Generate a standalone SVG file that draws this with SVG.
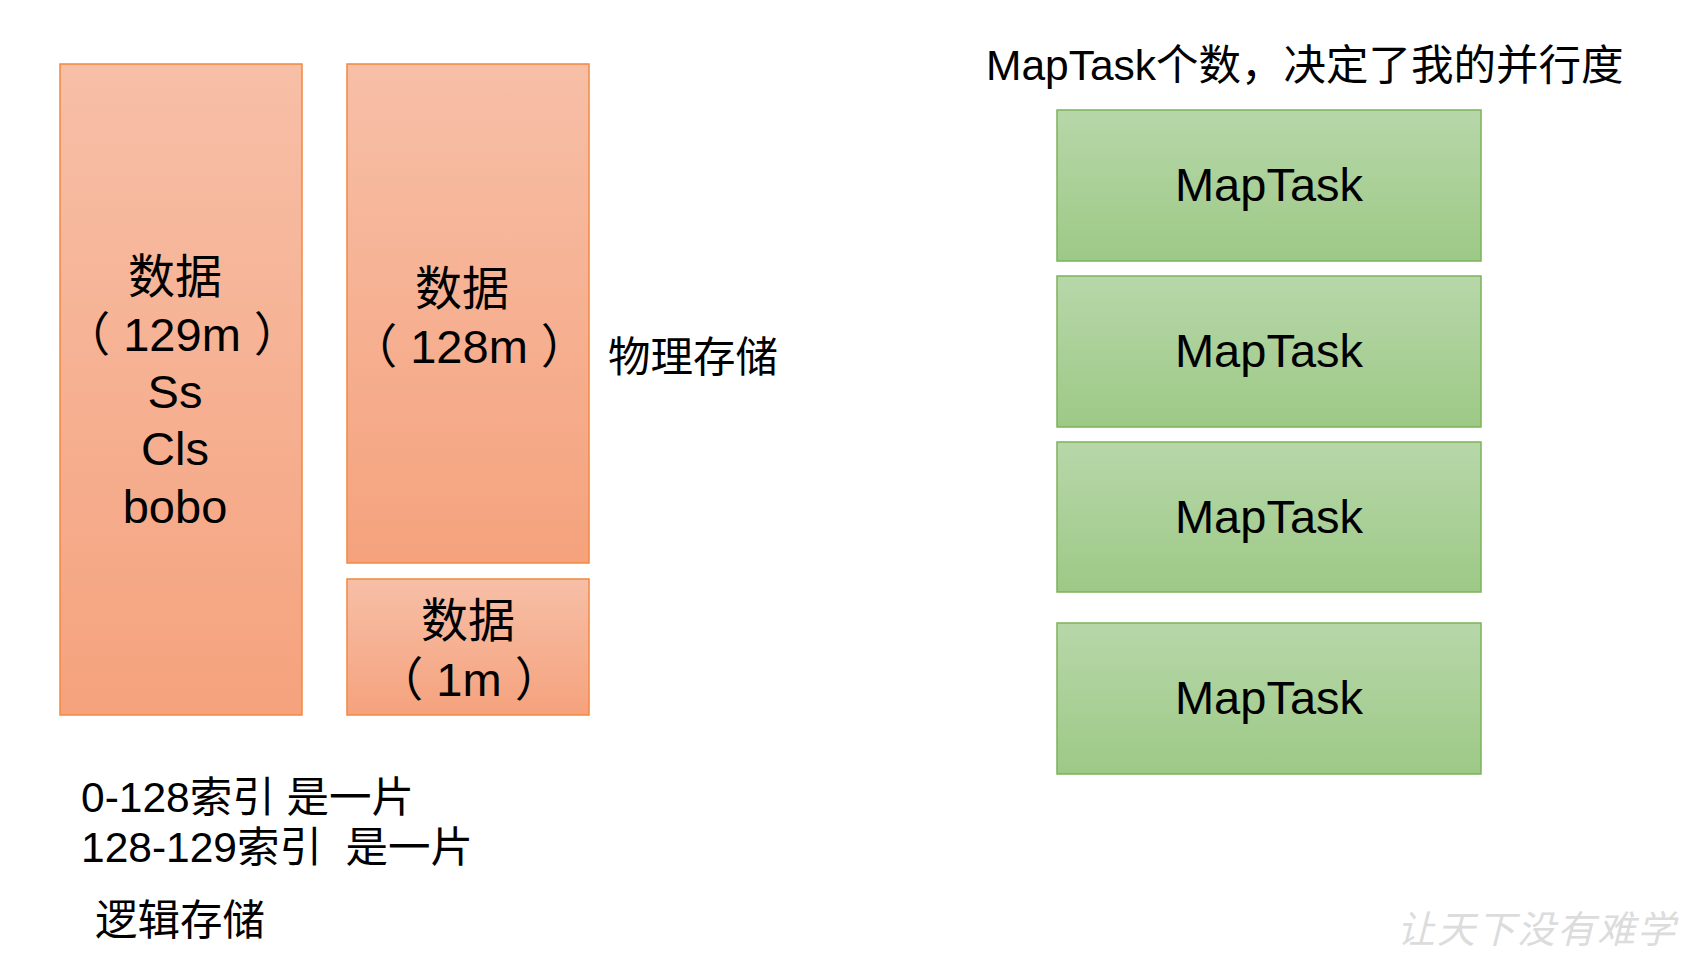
<svg xmlns="http://www.w3.org/2000/svg" width="1685" height="953" viewBox="0 0 1685 953">
<defs>
<linearGradient id="gOrange" x1="0" y1="0" x2="0" y2="1">
<stop offset="0" stop-color="#f7bfa7"/>
<stop offset="1" stop-color="#f5a27d"/>
</linearGradient>
<linearGradient id="gGreen" x1="0" y1="0" x2="0" y2="1">
<stop offset="0" stop-color="#b7d7a9"/>
<stop offset="1" stop-color="#9dc986"/>
</linearGradient>
<style>
.ob{fill:url(#gOrange);stroke:#f3883f;stroke-width:1.5}
.gb{fill:url(#gGreen);stroke:#7db25a;stroke-width:1.5}
.t{font-family:"Liberation Sans","Noto Sans CJK SC",sans-serif;fill:#000}
.big{font-size:47px;text-anchor:middle}
.mid{font-size:42.5px}
.wm{font-family:"Noto Sans CJK SC",sans-serif;font-size:38px;fill:#dcdcdc;font-style:italic}
</style>
</defs>
<g id="block129">
<rect class="ob" x="60" y="64" width="242" height="651"/>
<text class="t big" x="175" y="293">数据</text>
<text class="t big" x="182" y="351" xml:space="preserve">（ 129m ）</text>
<text class="t big" x="175" y="408">Ss</text>
<text class="t big" x="175" y="465">Cls</text>
<text class="t big" x="175" y="523">bobo</text>
</g>
<g id="block128">
<rect class="ob" x="347" y="64" width="242" height="499"/>
<text class="t big" x="462" y="305">数据</text>
<text class="t big" x="469" y="363" xml:space="preserve">（ 128m ）</text>
</g>
<g id="block1">
<rect class="ob" x="347" y="579" width="242" height="136"/>
<text class="t big" x="468" y="637">数据</text>
<text class="t big" x="469" y="696" xml:space="preserve">（ 1m ）</text>
</g>
<g id="physical">
<text class="t mid" x="608" y="372">物理存储</text>
</g>
<g id="logical">
<text class="t mid" x="81" y="812">0-128索引 是一片</text>
<text class="t mid" x="81" y="862" xml:space="preserve">128-129索引  是一片</text>
<text class="t mid" x="95" y="935">逻辑存储</text>
</g>
<g id="title">
<text class="t mid" x="986" y="80">MapTask个数，决定了我的并行度</text>
</g>
<g id="maptask1">
<rect class="gb" x="1057" y="110" width="424" height="151"/>
<text class="t big" x="1269" y="201">MapTask</text>
</g>
<g id="maptask2">
<rect class="gb" x="1057" y="276" width="424" height="151"/>
<text class="t big" x="1269" y="367">MapTask</text>
</g>
<g id="maptask3">
<rect class="gb" x="1057" y="442" width="424" height="150"/>
<text class="t big" x="1269" y="533">MapTask</text>
</g>
<g id="maptask4">
<rect class="gb" x="1057" y="623" width="424" height="151"/>
<text class="t big" x="1269" y="714">MapTask</text>
</g>
<g id="connectors"></g>
<text class="wm" x="1397" y="943" letter-spacing="2">让天下没有难学</text>
</svg>
